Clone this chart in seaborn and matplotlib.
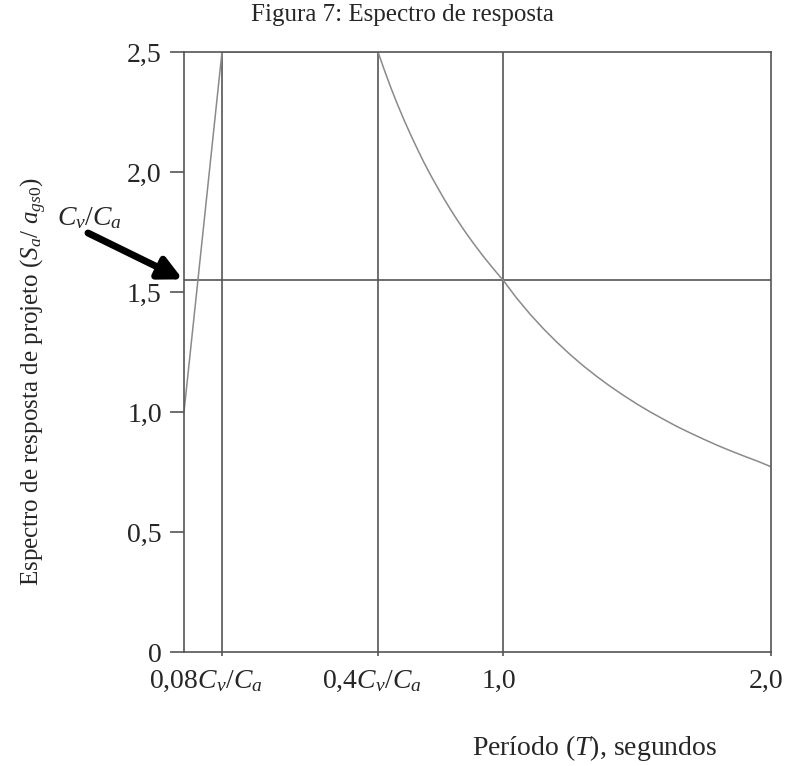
import numpy as np
import pandas as pd
import matplotlib.pyplot as plt
import matplotlib.transforms as mtransforms
import seaborn as sns

# ------------------- Dados -------------------
cv_ca = 1.55

periodo = [0.0, 0.124,
           0.62, 0.64, 0.66, 0.68, 0.70, 0.72, 0.74, 0.76, 0.78, 0.80,
           0.82, 0.84, 0.86, 0.88, 0.90, 0.92, 0.94, 0.96, 0.98, 1.00,
           1.05, 1.10, 1.15, 1.20, 1.25, 1.30, 1.35, 1.40, 1.45, 1.50,
           1.55, 1.60, 1.65, 1.70, 1.75, 1.80, 1.85, 1.90, 1.95, 2.00]
espectro = [1.0, 2.5,
            2.500, 2.422, 2.348, 2.279, 2.214, 2.153, 2.095, 2.039, 1.987, 1.938,
            1.890, 1.845, 1.802, 1.761, 1.722, 1.685, 1.649, 1.615, 1.582, 1.550,
            1.476, 1.409, 1.348, 1.292, 1.240, 1.192, 1.148, 1.107, 1.069, 1.033,
            1.000, 0.969, 0.939, 0.912, 0.886, 0.861, 0.838, 0.816, 0.795, 0.772]

x_ticks = [0.08 * cv_ca, 0.4 * cv_ca, 1.0, 2.0]
x_labels = [r'0,08$C_v/C_a$', r'0,4$C_v/C_a$', '1,0', '2,0']
y_ticks = [0, 0.5, 1.0, 1.5, 2.0, 2.5]
y_labels = ['0', '0,5', '1,0', '1,5', '2,0', '2,5']

df = pd.DataFrame({'T': periodo, 'Sa': espectro})

# eixo x esquemático (não linear), como no desenho original
t_ref = [0.0, 0.124, 0.62, 1.0, 2.0]
x_ref = [0.0, 0.0647, 0.3305, 0.5434, 1.0]


def forward(t):
    return np.interp(t, t_ref, x_ref)


def inverse(x):
    return np.interp(x, x_ref, t_ref)


# ------------------- Estilo -------------------
sns.set_style("ticks")
plt.rcParams['font.family'] = ['Liberation Serif', 'DejaVu Serif']
plt.rcParams['mathtext.fontset'] = 'custom'
plt.rcParams['mathtext.rm'] = 'Liberation Serif'
plt.rcParams['mathtext.it'] = 'Liberation Serif:italic'

cinza = '#555555'

fig = plt.figure(figsize=(7.89, 7.66), dpi=100)
ax = fig.add_axes([184 / 789, 1 - 652 / 766, (771 - 184) / 789, (652 - 52) / 766])

ax.set_xscale('function', functions=(forward, inverse))

# linhas de referência
for xv in x_ticks[:3]:
    ax.axvline(xv, color=cinza, lw=1.2, zorder=1)
ax.axhline(cv_ca, color=cinza, lw=1.2, zorder=1)

sns.lineplot(data=df, x='T', y='Sa', ax=ax, color='#8a8a8a', lw=1.1,
             zorder=2, legend=False)

ax.set_xlim(0, 2.0)
ax.set_ylim(0, 2.5)
ax.set_xticks(x_ticks)
ax.set_xticklabels(x_labels)
ax.set_yticks(y_ticks)
ax.set_yticklabels(y_labels)
ax.minorticks_off()
ax.set_xlabel('')
ax.set_ylabel('')

for s in ax.spines.values():
    s.set_color(cinza)
    s.set_linewidth(1.2)

ax.tick_params(axis='y', direction='out', length=10, width=1.2, color=cinza,
               labelsize=20, pad=6)
ax.tick_params(axis='x', direction='out', length=3, width=1.2, color=cinza,
               labelsize=20, pad=9)

# rótulos do eixo x ligeiramente deslocados para a esquerda
desloc = [-16, -6, -4, -5]
for lab, dx in zip(ax.get_xticklabels(), desloc):
    lab.set_transform(lab.get_transform() +
                      mtransforms.ScaledTranslation(dx / 100, 0, fig.dpi_scale_trans))

# seta Cv/Ca
ax.annotate('', xy=(0, cv_ca), xycoords='data',
            xytext=(88 / 789, 1 - 233 / 766), textcoords='figure fraction',
            arrowprops=dict(arrowstyle='-|>', lw=5, color='black',
                            mutation_scale=34, shrinkA=0, shrinkB=1),
            annotation_clip=False)
fig.text(90 / 789, 1 - 218 / 766, r'$C_v/C_a$', ha='center', va='center',
         fontsize=20)

# textos
fig.text(402 / 789, 1 - 21 / 766, 'Figura 7: Espectro de resposta',
         ha='center', va='baseline', fontsize=18)
fig.text(34 / 789, 1 - 382 / 766,
         r'Espectro de resposta de projeto ($S_a$/ $a_{gs0}$)',
         ha='center', va='center', rotation=90, fontsize=18)
fig.text(595 / 789, 1 - 748 / 766, r'Período ($T$), segundos',
         ha='center', va='center', fontsize=20)

fig.savefig('out.png', dpi=100)
